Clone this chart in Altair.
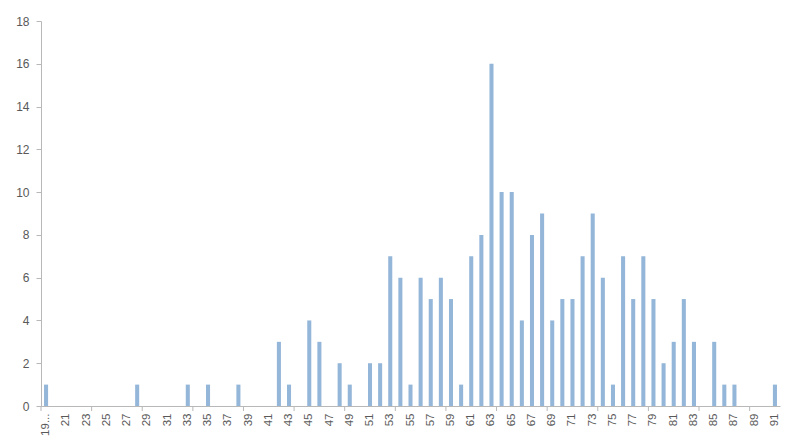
import altair as alt
import pandas as pd

# Category labels (x) and counts
categories = [str(v) for v in range(19, 92)]
counts = [1, 0, 0, 0, 0, 0, 0, 0, 0, 1, 0, 0, 0, 0, 1, 0, 1, 0, 0, 1, 0, 0, 0,
          3, 1, 0, 4, 3, 0, 2, 1, 0, 2,
          2, 7, 6, 1, 6, 5, 6, 5, 1, 7,
          8, 16, 10, 10, 4, 8, 9, 4, 5, 5,
          7, 9, 6, 1, 7, 5, 7, 5, 2, 3,
          5, 3, 0, 3, 1, 1, 0, 0, 0, 1]
tick_categories = ["19", "24", "29", "34", "39", "44", "49", "54", "59", "64",
                   "69", "74", "79", "84", "89"]
y_ticks = [0, 2, 4, 6, 8, 10, 12, 14, 16, 18]

assert len(categories) == len(counts)

df = pd.DataFrame({"cat": categories, "count": counts})
ticks_df = pd.DataFrame({"cat": tick_categories})

W, H = 739, 385
FONT = "Liberation Sans"
TXT = "#595959"
AX = "#b8b8b8"

xscale = alt.Scale(domain=categories, paddingInner=0.6, paddingOuter=0.3)
xaxis = alt.Axis(labelAngle=270, labelAlign="right", labelBaseline="middle",
                 labelExpr="datum.value == '19' ? '19...' : (toNumber(datum.value) % 2 == 1 ? datum.value : '')",
                 labelOverlap=False, ticks=False, labelPadding=7,
                 labelFont=FONT, labelFontSize=11.5, labelColor=TXT,
                 domainColor=AX, grid=False, title=None)

bars = alt.Chart(df).mark_bar(color="#94B6D9").encode(
    x=alt.X("cat:N", scale=xscale, sort=None, axis=xaxis),
    y=alt.Y("count:Q", scale=alt.Scale(domain=[0, 18], nice=False), title=None,
            axis=alt.Axis(values=y_ticks, tickSize=5, tickColor=AX, domainColor=AX,
                          labelPadding=7, labelFont=FONT, labelFontSize=12,
                          labelColor=TXT, grid=False)),
)

ticks = alt.Chart(ticks_df).mark_rule(color=AX, xOffset=-W / 73 / 2).encode(
    x=alt.X("cat:N", scale=xscale, sort=None, axis=xaxis),
    y=alt.value(H),
    y2=alt.value(H + 5),
)

chart = alt.layer(bars, ticks).properties(
    width=W, height=H,
    autosize=alt.AutoSizeParams(type="none"),
    padding={"left": 33, "top": 13, "right": 10, "bottom": 40},
    view=alt.ViewBackground(stroke="transparent", strokeWidth=0),
).configure_view(stroke="transparent", strokeWidth=0).configure(background="white")

chart.save("out.html", embed_options={"renderer": "svg", "actions": False})
